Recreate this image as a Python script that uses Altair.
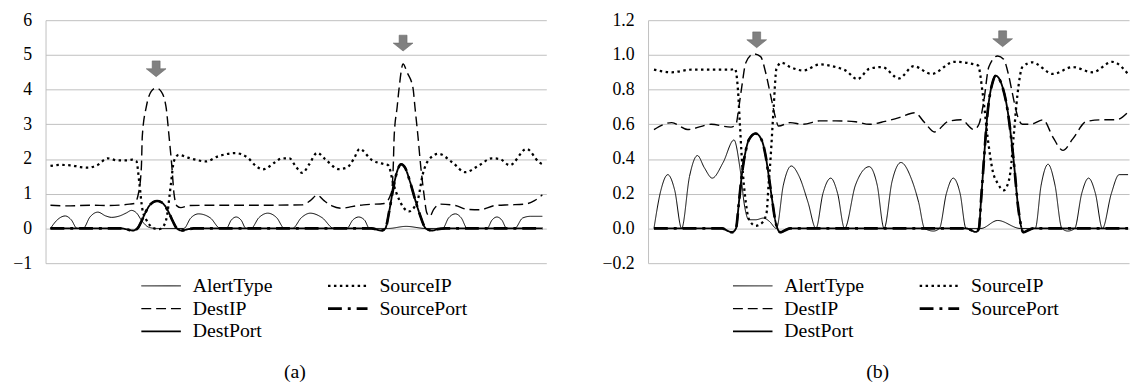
import altair as alt
import pandas as pd

# legend order is column-major in a 2-column grid: col1 = AlertType, DestIP, DestPort; col2 = SourceIP, SourcePort
SERIES = ["AlertType", "DestIP", "DestPort", "SourceIP", "SourcePort"]
DASHES = [[1, 0], [10, 5], [1, 0], [2.5, 3.5], [14, 6, 3, 6]]
WIDTHS = [1.0, 2.7, 4.5, 2.6, 3.5]

# ---------------- panel (a) ----------------
A_ALERT_T = [0, 7, 15, 21, 27, 33, 40, 48, 56, 62, 70, 77, 82, 87, 93, 100, 108, 135, 142, 150, 162, 172, 178, 183, 188, 193, 198, 203, 211, 220, 229, 237, 245, 254, 263, 275, 287, 300, 306, 312, 318, 323, 342, 360, 380, 397, 403, 410, 416, 422, 442, 447, 452, 457, 462, 470, 478, 486, 498]
A_ALERT_V = [0, 0.25, 0.36, 0.25, 0, 0, 0.33, 0.47, 0.36, 0.32, 0.36, 0.45, 0.52, 0.45, 0.2, 0.03, 0, 0, 0.3, 0.42, 0.3, 0, 0, 0.24, 0.33, 0.24, 0, 0, 0.31, 0.44, 0.31, 0, 0, 0.31, 0.44, 0.31, 0, 0, 0.24, 0.33, 0.24, 0, 0, 0.06, 0, 0, 0.3, 0.42, 0.3, 0, 0, 0.24, 0.33, 0.24, 0, 0, 0.3, 0.35, 0.35]

A_SRCIP_T = [0, 10, 20, 30, 38, 47, 58, 68, 77, 83, 87, 90, 93, 97, 101, 105, 110, 114, 118, 122, 125, 130, 138, 147, 157, 170, 187, 200, 208, 215, 227, 234, 242, 248, 255, 262, 270, 278, 292, 300, 307, 313, 325, 338, 342, 347, 353, 358, 363, 368, 372, 377, 383, 393, 407, 420, 433, 447, 455, 465, 482, 495, 498]
A_SRCIP_V = [1.80, 1.83, 1.82, 1.77, 1.75, 1.82, 2.02, 1.96, 1.96, 1.98, 1.94, 1.3, 0.56, 0.25, 0.08, 0.0, -0.02, 0.05, 0.37, 1.3, 1.94, 2.12, 2.05, 1.98, 1.93, 2.08, 2.17, 2.03, 1.8, 1.7, 1.9, 2.02, 2.02, 1.8, 1.6, 1.85, 2.18, 2.0, 1.71, 1.75, 2.0, 2.29, 1.98, 1.85, 1.82, 1.3, 0.83, 0.58, 0.49, 0.6, 0.83, 1.57, 1.98, 2.15, 1.9, 1.62, 1.8, 2.02, 2.0, 1.82, 2.29, 1.9, 1.85]

A_DSTIP_T = [0, 20, 40, 60, 80, 85, 89, 92, 93, 97, 102, 107, 112, 117, 120, 123, 125, 128, 132, 140, 180, 220, 255, 263, 270, 277, 285, 295, 305, 317, 338, 345, 347, 348, 351, 353, 357, 361, 367, 369, 372, 375, 378, 381, 384, 388, 395, 410, 422, 435, 450, 465, 480, 490, 498]
A_DSTIP_V = [0.67, 0.65, 0.67, 0.66, 0.7, 0.72, 1.0, 1.75, 2.67, 3.5, 3.95, 4.05, 3.95, 3.5, 2.67, 1.75, 1.02, 0.65, 0.6, 0.66, 0.67, 0.67, 0.68, 0.8, 0.96, 0.8, 0.65, 0.58, 0.63, 0.68, 0.72, 1.02, 1.75, 2.67, 3.5, 4.05, 4.74, 4.5, 4.05, 3.5, 2.67, 1.75, 1.02, 0.45, 0.35, 0.55, 0.7, 0.66, 0.55, 0.54, 0.66, 0.68, 0.7, 0.8, 0.97]

A_DSTPORT_T = [0, 72, 78, 83, 88, 92, 96, 100, 104, 108, 112, 116, 120, 124, 128, 133, 138, 145, 325, 335, 339, 343, 347, 351, 355, 359, 364, 369, 374, 380, 386, 392, 400, 498]
A_DSTPORT_V = [0, 0, -0.03, -0.06, 0.0, 0.2, 0.45, 0.65, 0.76, 0.79, 0.76, 0.65, 0.45, 0.2, 0.0, -0.06, -0.03, 0, 0, -0.06, 0.0, 0.5, 1.15, 1.65, 1.85, 1.75, 1.35, 0.85, 0.4, 0.0, -0.06, -0.02, 0, 0]

# SourcePort runs exactly under DestPort (hidden in the picture)
A_SRCPORT_T = [0, 72, 78, 83, 88, 92, 96, 100, 104, 108, 112, 116, 120, 124, 128, 133, 138, 145, 325, 335, 339, 343, 347, 351, 355, 359, 364, 369, 374, 380, 386, 392, 400, 498]
A_SRCPORT_V = [0, 0, -0.03, -0.06, 0.0, 0.2, 0.45, 0.65, 0.76, 0.79, 0.76, 0.65, 0.45, 0.2, 0.0, -0.06, -0.03, 0, 0, -0.06, 0.0, 0.5, 1.15, 1.65, 1.85, 1.75, 1.35, 0.85, 0.4, 0.0, -0.06, -0.02, 0, 0]

A_ARROW_T = [107, 357]
A_ARROW_V = [4.6, 5.34]

# ---------------- panel (b) ----------------
B_ALERT_T = [0, 7, 14, 21, 28, 36, 44, 51, 59, 70, 81, 87, 92, 96, 103, 111, 117, 124, 131, 139, 147, 156, 164, 171, 179, 186, 193, 204, 218, 226, 233, 241, 250, 261, 268, 274, 283, 289, 296, 303, 310, 316, 331, 348, 371, 386, 392, 399, 406, 413, 419, 426, 433, 440, 447, 454, 463, 471, 480]
B_ALERT_V = [0, 0.22, 0.31, 0.22, 0, 0.3, 0.42, 0.35, 0.29, 0.38, 0.51, 0.35, 0.12, 0.05, 0.05, 0.06, 0.04, 0, 0.25, 0.36, 0.3, 0.15, 0, 0.2, 0.29, 0.2, 0, 0.25, 0.356, 0.25, 0, 0.27, 0.38, 0.28, 0.15, 0, -0.015, 0, 0.2, 0.29, 0.2, 0, 0, 0.046, 0, 0, 0.25, 0.37, 0.25, 0, -0.015, 0, 0.2, 0.29, 0.2, 0, 0.2, 0.31, 0.31]

B_SRCIP_T = [0, 18, 38, 61, 78, 82, 85, 87, 89, 93, 96, 103, 109, 114, 116, 118, 121, 124, 129, 138, 151, 168, 184, 194, 206, 218, 231, 248, 263, 281, 304, 328, 333, 338, 343, 348, 354, 359, 361, 364, 368, 373, 383, 404, 424, 444, 464, 480]
B_SRCIP_V = [0.915, 0.90, 0.915, 0.915, 0.915, 0.92, 0.8, 0.6, 0.40, 0.15, 0.055, 0.015, 0.03, 0.09, 0.25, 0.4, 0.68, 0.92, 0.955, 0.93, 0.91, 0.945, 0.93, 0.91, 0.86, 0.92, 0.93, 0.865, 0.935, 0.89, 0.96, 0.94, 0.77, 0.516, 0.33, 0.26, 0.22, 0.27, 0.33, 0.52, 0.77, 0.93, 0.957, 0.89, 0.93, 0.9, 0.96, 0.89]

B_DSTIP_T = [0, 18, 34, 58, 78, 83, 86, 89, 93, 101, 108, 113, 118, 123, 126, 138, 151, 168, 184, 204, 218, 234, 249, 264, 274, 284, 298, 311, 324, 329, 334, 339, 348, 354, 359, 363, 368, 373, 381, 394, 404, 414, 424, 438, 454, 468, 480]
B_DSTIP_V = [0.57, 0.61, 0.57, 0.60, 0.584, 0.6, 0.7, 0.82, 0.955, 1.006, 0.99, 0.9, 0.77, 0.64, 0.59, 0.61, 0.60, 0.62, 0.62, 0.615, 0.60, 0.617, 0.64, 0.667, 0.61, 0.556, 0.617, 0.626, 0.57, 0.6, 0.736, 0.93, 0.994, 0.975, 0.885, 0.775, 0.65, 0.6, 0.6, 0.626, 0.525, 0.45, 0.516, 0.617, 0.626, 0.626, 0.67]

B_DSTPORT_T = [0, 69, 75, 79, 83, 86, 89, 93, 96, 103, 109, 113, 116, 120, 123, 128, 133, 138, 316, 326, 329, 331, 333, 338, 343, 346, 351, 358, 364, 369, 374, 379, 384, 480]
B_DSTPORT_V = [0, 0, -0.015, -0.022, 0.0, 0.15, 0.31, 0.45, 0.51, 0.547, 0.51, 0.42, 0.31, 0.15, 0.04, -0.022, -0.01, 0, 0, -0.02, 0.0, 0.15, 0.31, 0.68, 0.845, 0.88, 0.845, 0.68, 0.40, 0.11, -0.022, -0.01, 0, 0]

B_SRCPORT_T = [0, 69, 75, 79, 83, 86, 89, 93, 96, 103, 109, 113, 116, 120, 123, 128, 133, 138, 316, 326, 329, 331, 333, 338, 343, 346, 351, 358, 364, 369, 374, 379, 384, 480]
B_SRCPORT_V = [0, 0, -0.015, -0.022, 0.0, 0.15, 0.31, 0.45, 0.51, 0.547, 0.51, 0.42, 0.31, 0.15, 0.04, -0.022, -0.01, 0, 0, -0.02, 0.0, 0.15, 0.31, 0.68, 0.845, 0.88, 0.845, 0.68, 0.40, 0.11, -0.022, -0.01, 0, 0]

B_ARROW_T = [104, 353]
B_ARROW_V = [1.087, 1.093]

A_TICKS = [-1, 0, 1, 2, 3, 4, 5, 6]
B_TICKS = [-0.2, 0.0, 0.2, 0.4, 0.6, 0.8, 1.0, 1.2]

GRID = "#bfbfbf"
FONT = "Liberation Serif"
ARROW_PATH = "M-0.4,-0.8L0.4,-0.8L0.4,0L1,0L0,0.8L-1,0L-0.4,0Z"
LEGEND_PATH = "M-2.6667,0L2.6667,0"


def table(parts):
    frames = []
    for name, ts, vs in parts:
        frames.append(pd.DataFrame({"t": ts, "v": vs, "series": name}))
    return pd.concat(frames, ignore_index=True)


def panel(df, arrows, xdom, ydom, ticks, fmt, width, height, caption, lx, ly, dx):
    leg = alt.Legend(
        title=None, orient="none", legendX=lx, legendY=ly, columns=2,
        symbolType=LEGEND_PATH, symbolSize=225, symbolStrokeColor="black",
        symbolFillColor="transparent", symbolOffset=10, labelOffset=22,
        labelFont=FONT, labelFontSize=20, labelColor="black",
        rowPadding=3, columnPadding=50, padding=0,
    )
    x = alt.X("t:Q", scale=alt.Scale(domain=xdom, nice=False, zero=False), axis=None)
    y = alt.Y(
        "v:Q",
        scale=alt.Scale(domain=ydom, nice=False, zero=False),
        axis=alt.Axis(
            values=ticks, tickCount=len(ticks), format=fmt, title=None, ticks=False,
            domain=True, domainColor=GRID, gridColor=GRID, gridWidth=1,
            labelFont=FONT, labelFontSize=18, labelColor="black", labelPadding=14,
            labelOverlap=False,
        ),
    )
    lines = alt.Chart(df).mark_line(interpolate="monotone", color="black").encode(
        x=x, y=y,
        strokeDash=alt.StrokeDash("series:N", scale=alt.Scale(domain=SERIES, range=DASHES), legend=leg),
        strokeWidth=alt.StrokeWidth("series:N", scale=alt.Scale(domain=SERIES, range=WIDTHS), legend=leg),
    )
    arr = alt.Chart(arrows).mark_point(
        shape=ARROW_PATH, size=400, filled=True, fill="#808080", stroke="#666666",
        strokeWidth=0.6, opacity=1,
    ).encode(x=x, y=y)
    return alt.layer(lines, arr).properties(
        width=width, height=height,
        title=alt.TitleParams(caption, orient="bottom", anchor="middle", font=FONT,
                              fontSize=20, fontWeight="normal", color="black",
                              offset=21, dx=dx),
    )


# data rows are in drawing order: DestPort last so it sits on top
df_a = table([
    ("AlertType", A_ALERT_T, A_ALERT_V),
    ("SourceIP", A_SRCIP_T, A_SRCIP_V),
    ("DestIP", A_DSTIP_T, A_DSTIP_V),
    ("SourcePort", A_SRCPORT_T, A_SRCPORT_V),
    ("DestPort", A_DSTPORT_T, A_DSTPORT_V),
])
df_b = table([
    ("AlertType", B_ALERT_T, B_ALERT_V),
    ("SourceIP", B_SRCIP_T, B_SRCIP_V),
    ("DestIP", B_DSTIP_T, B_DSTIP_V),
    ("SourcePort", B_SRCPORT_T, B_SRCPORT_V),
    ("DestPort", B_DSTPORT_T, B_DSTPORT_V),
])
arr_a = pd.DataFrame({"t": A_ARROW_T, "v": A_ARROW_V})
arr_b = pd.DataFrame({"t": B_ARROW_T, "v": B_ARROW_V})

pa = panel(df_a, arr_a, [-5, 502], [-1, 6], A_TICKS, "d", 507, 246, "(a)", 97, 259, -1)
pb = panel(df_b, arr_b, [-6, 481], [-0.2, 1.2], B_TICKS, ".1f", 487, 246, "(b)", 86, 259, -11)

chart = alt.hconcat(pa, pb, spacing=54).resolve_scale(
    x="independent", y="independent", strokeDash="independent", strokeWidth="independent"
).resolve_legend(strokeDash="independent", strokeWidth="independent").properties(
    padding={"left": 4, "top": 1, "right": 0, "bottom": 0},
    background="white",
).configure_view(stroke=None).configure_axis(labelOverlap=False)

chart.save("out.html", embed_options={"renderer": "svg", "actions": False})
